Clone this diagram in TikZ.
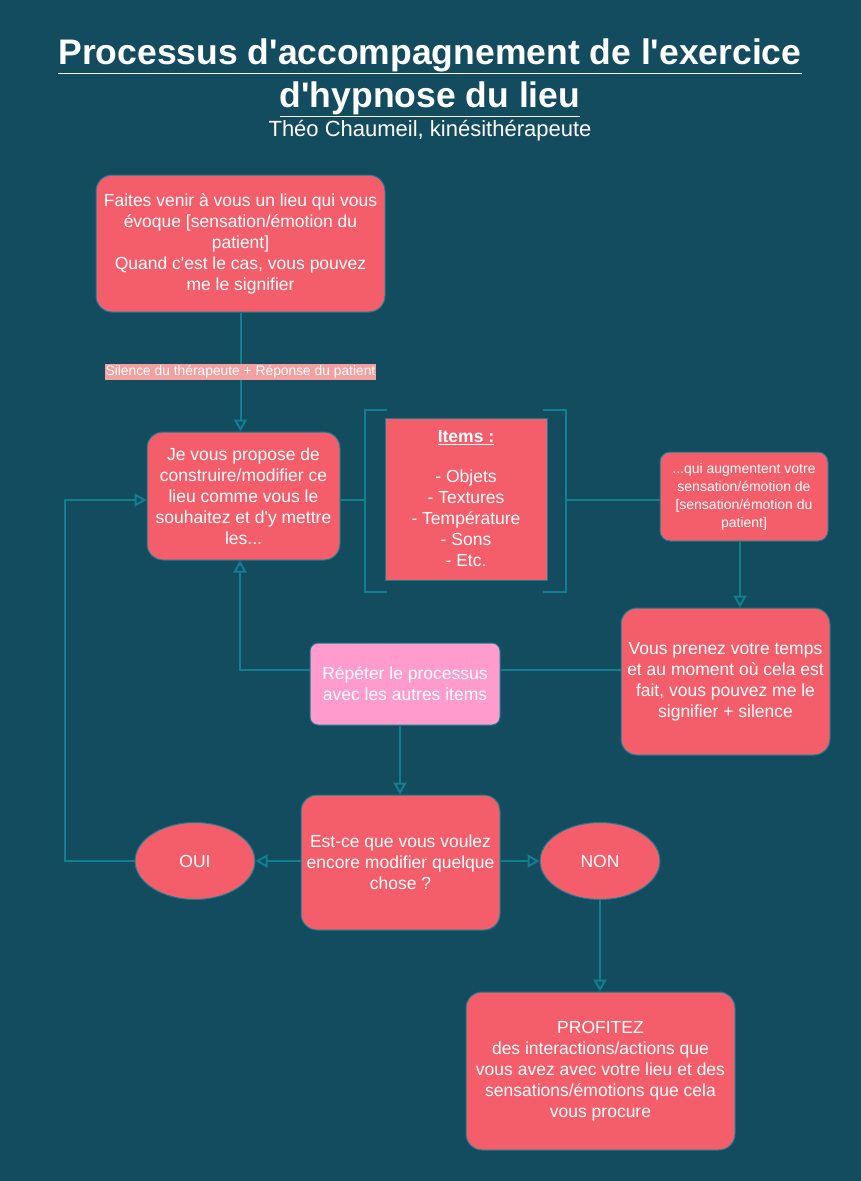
\documentclass[tikz,border=0pt]{standalone}
\usepackage{fontspec}
\setmainfont{Liberation Sans}
\usetikzlibrary{arrows.meta, shapes.geometric, positioning}
\definecolor{bgteal}{RGB}{19,75,95}
\definecolor{boxred}{RGB}{244,93,106}
\definecolor{edgeteal}{RGB}{16,128,144}
\definecolor{boxpink}{RGB}{255,155,205}
\definecolor{lblpink}{RGB}{245,160,160}
\newcommand{\apos}{\textquotesingle}

\begin{document}
\begin{tikzpicture}[
        x=1pt, y=-1pt,
        stage/.style={draw=edgeteal, line width=1pt, rounded corners=16pt, fill=boxred, text=white, align=center, font=\fontsize{17.5}{21}\selectfont, inner sep=2pt},
        answer/.style={ellipse, draw=edgeteal, line width=1pt, fill=boxred, text=white, minimum width=120pt, minimum height=77pt, font=\fontsize{17.5}{20}\selectfont},
        link/.style={draw=edgeteal, line width=2pt},
        flow/.style={link, -{Triangle[open, length=12pt, width=13pt]}}
    ]

    % --- Background and title ---
    \fill[bgteal] (0,0) rectangle (861,1181);
    \node[text=white, font=\bfseries\fontsize{35.5}{43}\selectfont, align=center] (title) at (430,78)
        {\underline{Processus d\apos accompagnement de l\apos exercice}\\\underline{d\apos hypnose du lieu}};
    \node[text=white, font=\fontsize{22}{25}\selectfont] (author) at (430,131) {Théo Chaumeil, kinésithérapeute};

    % --- Steps ---
    \node[stage, minimum width=289pt, minimum height=137pt] (evoke) at (240.5,243.5)
        {Faites venir à vous un lieu qui vous\\évoque [sensation/émotion du\\patient]\\Quand c\apos est le cas, vous pouvez\\me le signifier};
    \node[stage, minimum width=193pt, minimum height=128pt] (build) at (243.5,496)
        {Je vous propose de\\construire/modifier ce\\lieu comme vous le\\souhaitez et d\apos y mettre\\les...};
    \node[stage, rounded corners=0pt, minimum width=162pt, minimum height=162pt] (items) at (466,499)
        {\textbf{\underline{Items :}}\\[19pt]- Objets\\- Textures\\- Température\\- Sons\\- Etc.};
    \node[stage, rounded corners=10pt, minimum width=168pt, minimum height=89pt, font=\fontsize{14}{18}\selectfont] (more) at (744,496.5)
        {...qui augmentent votre\\sensation/émotion de\\{}[sensation/émotion du\\patient]};
    \node[stage, minimum width=209pt, minimum height=147pt] (time) at (725.5,681.5)
        {Vous prenez votre temps\\et au moment où cela est\\fait, vous pouvez me le\\signifier + silence};
    \node[stage, fill=boxpink, rounded corners=8pt, minimum width=190pt, minimum height=82pt] (repeat) at (405,684)
        {Répéter le processus\\avec les autres items};
    \node[stage, minimum width=199pt, minimum height=135pt] (ask) at (400.5,862.5)
        {Est-ce que vous voulez\\encore modifier quelque\\chose ?};
    \node[answer] (yes) at (195,861) {OUI};
    \node[answer] (no) at (600,861) {NON};
    \node[stage, minimum width=269pt, minimum height=158pt] (enjoy) at (600.5,1071)
        {PROFITEZ\\des interactions/actions que\\vous avez avec votre lieu et des\\sensations/émotions que cela\\vous procure};

    % --- Brackets round the items ---
    \draw[link] (387,410) -- (365,410) -- (365,592) -- (387,592);
    \draw[link] (543,410) -- (566,410) -- (566,592) -- (543,592);
    \coordinate (bl) at (365,500);
    \coordinate (br) at (566,500);

    % --- Connectors ---
    \draw[flow] (evoke) -- node[fill=lblpink, text=white, inner sep=1pt, font=\fontsize{13.8}{15}\selectfont] {Silence du thérapeute + Réponse du patient} (build.north -| evoke.south);
    \draw[link] (build.east |- bl) -- (bl);
    \draw[link] (br) -- (more.west |- br);
    \draw[flow] (more.south -| 740,0) -- (time.north -| 740,0);
    \draw[link] (time.west |- 0,670) -- (repeat.east |- 0,670);
    \draw[flow] (repeat.west |- 0,670) -| (build.south -| 240,0);
    \draw[flow] (repeat.south -| 400,0) -- (ask.north -| 400,0);
    \draw[flow] (ask.west |- yes) -- (yes);
    \draw[flow] (ask.east |- no) -- (no);
    \draw[flow] (yes.west) -- (65,861) |- (build.west |- 0,500);
    \draw[flow] (no) -- (enjoy.north -| no);
\end{tikzpicture}
\end{document}
